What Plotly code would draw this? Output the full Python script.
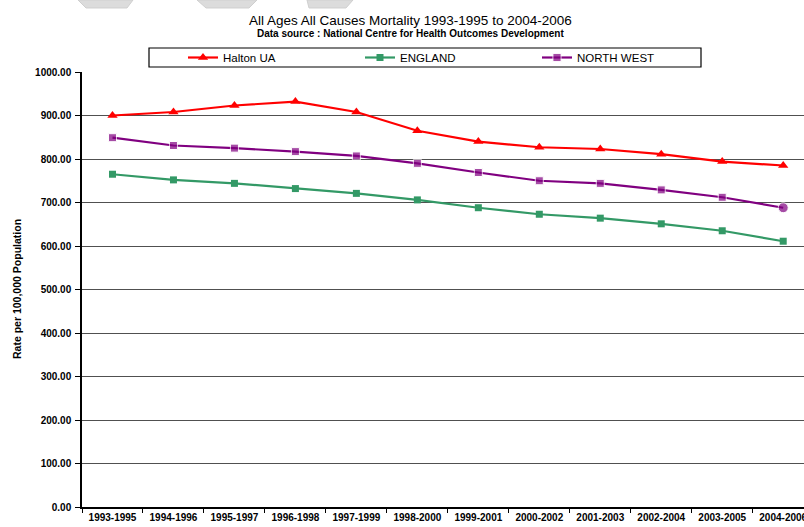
import plotly.graph_objects as go

# Three-year rolling periods
periods = ["1993-1995", "1994-1996", "1995-1997", "1996-1998", "1997-1999",
           "1998-2000", "1999-2001", "2000-2002", "2001-2003", "2002-2004",
           "2003-2005", "2004-2006"]

# Directly standardised all-cause mortality, rate per 100,000 population
halton_ua = [900, 908, 923, 932, 908, 865, 840, 827, 823, 811, 794, 785]
england = [765, 752, 744, 732, 721, 706, 688, 673, 664, 651, 635, 611]
north_west = [849, 831, 825, 817, 807, 790, 769, 750, 744, 729, 712, 688]

W, H = 804, 527
ML, MR, MT, MB = 82, 0, 72, 20
PW, PH = W - ML - MR, H - MT - MB
FONT = "Liberation Sans, Arial, sans-serif"


def px(x):
    return (x - ML) / PW


def py(y):
    return (H - MB - y) / PH


fig = go.Figure()
fig.add_trace(go.Scatter(
    x=periods, y=halton_ua, name="Halton UA", mode="lines+markers",
    line=dict(color="#FF0000", width=2.2),
    marker=dict(symbol="triangle-up", size=9, color="#FF0000"),
))
fig.add_trace(go.Scatter(
    x=periods, y=england, name="ENGLAND", mode="lines+markers",
    line=dict(color="#339966", width=2.2),
    marker=dict(symbol="square", size=7, color="#339966"),
))
fig.add_trace(go.Scatter(
    x=periods, y=north_west, name="NORTH WEST", mode="lines+markers",
    line=dict(color="#800080", width=2.2),
    marker=dict(symbol=["square"] * (len(periods) - 1) + ["circle"],
                size=[8] * (len(periods) - 1) + [10], color="#800080"),
))

# Faint hatched watermark fragments along the top edge
shapes = []
for pts in [
    [(78, 0), (133, 0), (127, 8), (86, 8)],
    [(197, 0), (257, 0), (249, 8), (206, 8)],
    [(307, 0), (353, 0), (346, 8), (309, 8)],
]:
    path = "M" + " L".join(f"{px(a):.5f},{py(b):.5f}" for a, b in pts) + " Z"
    shapes.append(dict(type="path", xref="paper", yref="paper", path=path,
                       fillcolor="#dcdcdc", line=dict(color="#cfcfcf", width=1),
                       layer="above"))

# Legend frame
shapes.append(dict(type="rect", xref="paper", yref="paper",
                   x0=px(149), x1=px(701), y0=py(67), y1=py(48),
                   line=dict(color="black", width=1.2), fillcolor="rgba(0,0,0,0)"))

annotations = [
    dict(text="All Ages All Causes Mortality 1993-1995 to 2004-2006",
         xref="paper", yref="paper", x=px(410), y=py(21),
         xanchor="center", yanchor="middle", showarrow=False,
         font=dict(family=FONT, size=13.5, color="black")),
    dict(text="<b>Data source : National Centre for Health Outcomes Development</b>",
         xref="paper", yref="paper", x=px(410), y=py(34),
         xanchor="center", yanchor="middle", showarrow=False,
         font=dict(family=FONT, size=10, color="black")),
    dict(text="<b>Rate per 100,000 Population</b>",
         xref="paper", yref="paper", x=px(17), y=py(289),
         xanchor="center", yanchor="middle", showarrow=False, textangle=-90,
         font=dict(family=FONT, size=10.5, color="black")),
]

fig.update_layout(
    width=W, height=H,
    margin=dict(l=ML, r=MR, t=MT, b=MB, autoexpand=False),
    paper_bgcolor="white", plot_bgcolor="white",
    font=dict(family=FONT, color="black"),
    showlegend=True,
    legend=dict(orientation="h", x=px(183), xanchor="left", y=py(57.5), yanchor="middle",
                bgcolor="rgba(0,0,0,0)", borderwidth=0,
                entrywidth=132, entrywidthmode="pixels",
                font=dict(family=FONT, size=11.5, color="black")),
    shapes=shapes,
    annotations=annotations,
)

# The plot area runs on past the right edge, so the last period is cut short
fig.update_xaxes(
    type="category", categoryorder="array", categoryarray=periods,
    range=[-0.5, len(periods) - 0.5 - 9.7 / 61.0],
    showgrid=False, zeroline=False,
    showline=True, linecolor="black", linewidth=1.5,
    ticks="outside", tickson="boundaries", ticklen=4, tickcolor="black",
    tickfont=dict(family=FONT, size=10, color="black", weight="bold"),
    ticklabeloverflow="allow",
    automargin=False,
)

fig.update_yaxes(
    range=[0, 1000], tickmode="linear", tick0=0, dtick=100,
    tickformat=".2f", ticks="outside", ticklen=5, tickcolor="black",
    ticklabelstandoff=2,
    showgrid=True, gridcolor="#505050", gridwidth=1,
    zeroline=False, showline=True, linecolor="black", linewidth=1.5,
    tickfont=dict(family=FONT, size=10, color="black", weight="bold"),
    automargin=False,
)

fig.write_html("out.html")
